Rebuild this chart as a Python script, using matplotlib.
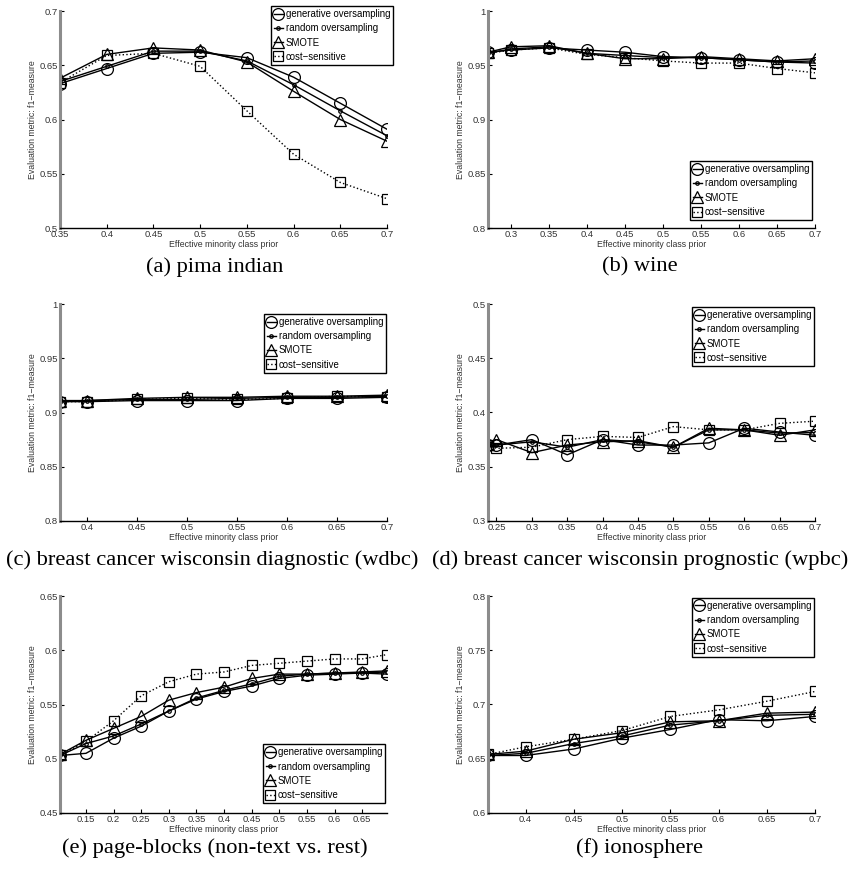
import matplotlib.pyplot as plt
from matplotlib.ticker import FuncFormatter

plt.rcParams['font.family'] = ['Liberation Sans', 'DejaVu Sans']

# Nomes dos metodos (legenda)
metodos = ["generative oversampling", "random oversampling", "SMOTE", "cost\u2212sensitive"]

# (a) pima indian
pima_x = [0.35, 0.4, 0.45, 0.5, 0.55, 0.6, 0.65, 0.7]
pima_gen = [0.633, 0.647, 0.661, 0.662, 0.657, 0.639, 0.615, 0.591]
pima_rand = [0.635, 0.649, 0.663, 0.663, 0.654, 0.632, 0.608, 0.585]
pima_smote = [0.638, 0.660, 0.666, 0.664, 0.653, 0.626, 0.600, 0.580]
pima_cost = [0.634, 0.659, 0.661, 0.649, 0.608, 0.568, 0.542, 0.527]

# (b) wine
wine_x = [0.27, 0.3, 0.35, 0.4, 0.45, 0.5, 0.55, 0.6, 0.65, 0.7]
wine_gen = [0.962, 0.964, 0.966, 0.964, 0.962, 0.958, 0.957, 0.955, 0.953, 0.952]
wine_rand = [0.961, 0.965, 0.967, 0.961, 0.959, 0.957, 0.957, 0.955, 0.953, 0.954]
wine_smote = [0.962, 0.967, 0.968, 0.961, 0.956, 0.956, 0.958, 0.956, 0.954, 0.956]
wine_cost = [0.961, 0.964, 0.966, 0.960, 0.957, 0.954, 0.952, 0.952, 0.947, 0.943]

# (c) wdbc
wdbc_x = [0.373, 0.4, 0.45, 0.5, 0.55, 0.6, 0.65, 0.7]
wdbc_gen = [0.910, 0.910, 0.911, 0.911, 0.911, 0.913, 0.913, 0.914]
wdbc_rand = [0.910, 0.911, 0.912, 0.912, 0.913, 0.914, 0.914, 0.915]
wdbc_smote = [0.911, 0.911, 0.913, 0.914, 0.914, 0.915, 0.915, 0.916]
wdbc_cost = [0.910, 0.910, 0.912, 0.913, 0.912, 0.913, 0.915, 0.914]

# (d) wpbc
wpbc_x = [0.238, 0.25, 0.3, 0.35, 0.4, 0.45, 0.5, 0.55, 0.6, 0.65, 0.7]
wpbc_gen = [0.370, 0.370, 0.375, 0.361, 0.375, 0.370, 0.370, 0.372, 0.3855, 0.382, 0.379]
wpbc_rand = [0.370, 0.370, 0.373, 0.368, 0.375, 0.373, 0.368, 0.384, 0.384, 0.381, 0.3815]
wpbc_smote = [0.371, 0.375, 0.363, 0.370, 0.373, 0.374, 0.368, 0.3855, 0.384, 0.379, 0.384]
wpbc_cost = [0.370, 0.367, 0.368, 0.375, 0.378, 0.377, 0.387, 0.384, 0.384, 0.390, 0.392]

# (e) page-blocks
page_x = [0.103, 0.15, 0.2, 0.25, 0.3, 0.35, 0.4, 0.45, 0.5, 0.55, 0.6, 0.65, 0.695]
page_gen = [0.503, 0.505, 0.519, 0.530, 0.544, 0.555, 0.562, 0.567, 0.574, 0.577, 0.578, 0.579, 0.578]
page_rand = [0.503, 0.514, 0.521, 0.532, 0.544, 0.556, 0.563, 0.569, 0.576, 0.578, 0.579, 0.579, 0.580]
page_smote = [0.504, 0.517, 0.528, 0.539, 0.554, 0.561, 0.566, 0.574, 0.578, 0.578, 0.579, 0.580, 0.581]
page_cost = [0.503, 0.516, 0.535, 0.558, 0.571, 0.578, 0.580, 0.586, 0.588, 0.590, 0.592, 0.592, 0.596]

# (f) ionosphere
iono_x = [0.361, 0.4, 0.45, 0.5, 0.55, 0.6, 0.65, 0.7]
iono_gen = [0.653, 0.653, 0.659, 0.669, 0.677, 0.686, 0.685, 0.689]
iono_rand = [0.653, 0.655, 0.664, 0.671, 0.681, 0.685, 0.690, 0.691]
iono_smote = [0.654, 0.657, 0.668, 0.674, 0.684, 0.685, 0.692, 0.693]
iono_cost = [0.654, 0.661, 0.668, 0.676, 0.689, 0.695, 0.703, 0.712]

legendas = ["(a) pima indian", "(b) wine",
            "(c) breast cancer wisconsin diagnostic (wdbc)",
            "(d) breast cancer wisconsin prognostic (wpbc)",
            "(e) page-blocks (non-text vs. rest)", "(f) ionosphere"]

fig = plt.figure(figsize=(8.53, 8.69), dpi=100)

def fmt(v, pos):
    return "%g" % round(v, 4)

def painel(ret, x, series, xlim, xticks, ylim, loc, anchor, legenda, cap_xy):
    ax = fig.add_axes(ret)
    estilos = [dict(ls='-', marker='o', ms=8.5),
               dict(ls='-', marker='.', ms=5),
               dict(ls='-', marker='^', ms=8.5),
               dict(ls=':', marker='s', ms=7)]
    for ys, nome, st in zip(series, metodos, estilos):
        ax.plot(x, ys, color='black', lw=1.0, mfc='none', mec='black', mew=0.9,
                label=nome, **st)
    ax.set_xlim(xlim)
    ax.set_ylim(ylim)
    ax.set_xticks(xticks)
    yt = [round(ylim[0] + 0.05 * i, 2) for i in range(5)]
    ax.set_yticks(yt)
    ax.xaxis.set_major_formatter(FuncFormatter(fmt))
    ax.yaxis.set_major_formatter(FuncFormatter(fmt))
    ax.spines['top'].set_visible(False)
    ax.spines['right'].set_visible(False)
    ax.spines['left'].set_color('0.55')
    ax.spines['left'].set_linewidth(2.2)
    ax.spines['bottom'].set_linewidth(1)
    ax.tick_params(direction='in', length=3, labelsize=6.8, pad=1.5, colors='black',
                   labelcolor='0.2')
    ax.set_xlabel("Effective minority class prior", fontsize=6.3, color='0.2', labelpad=1)
    ax.set_ylabel("Evaluation metric: f1\u2212measure", fontsize=6.3, color='0.2', labelpad=1.5)
    ax.legend(loc=loc, bbox_to_anchor=anchor, borderaxespad=0, fontsize=6.9,
              frameon=True, fancybox=False, framealpha=1, edgecolor='black',
              handlelength=0.9, handletextpad=0.3, borderpad=0.3, labelspacing=0.45)
    fig.text(cap_xy[0] / 853, 1 - cap_xy[1] / 869, legenda, ha='center', va='center',
             fontsize=16.2, family=['Liberation Serif', 'DejaVu Serif'])

W = 327 / 853
H = 217 / 869
xs = [0.05 * i for i in range(2, 15)]

painel([60 / 853, 1 - 228 / 869, W, H], pima_x,
       [pima_gen, pima_rand, pima_smote, pima_cost],
       (0.35, 0.7), [v for v in xs if 0.349 < v < 0.701], (0.5, 0.7),
       'upper right', (1.018, 1.023), legendas[0], (215, 267))
painel([488 / 853, 1 - 228 / 869, W, H], wine_x,
       [wine_gen, wine_rand, wine_smote, wine_cost],
       (0.27, 0.7), [v for v in xs if 0.299 < v < 0.701], (0.8, 1.0),
       'lower right', (0.991, 0.037), legendas[1], (640, 267))
painel([60 / 853, 1 - 521 / 869, W, H], wdbc_x,
       [wdbc_gen, wdbc_rand, wdbc_smote, wdbc_cost],
       (0.373, 0.7), [v for v in xs if 0.399 < v < 0.701], (0.8, 1.0),
       'upper right', (0.997, 0.954), legendas[2], (212, 560))
painel([488 / 853, 1 - 521 / 869, W, H], wpbc_x,
       [wpbc_gen, wpbc_rand, wpbc_smote, wpbc_cost],
       (0.238, 0.7), [v for v in xs if 0.249 < v < 0.701], (0.3, 0.5),
       'upper right', (0.997, 0.986), legendas[3], (640, 560))
painel([60 / 853, 1 - 813 / 869, W, H], page_x,
       [page_gen, page_rand, page_smote, page_cost],
       (0.103, 0.695), [v for v in xs if 0.149 < v < 0.651], (0.45, 0.65),
       'lower right', (0.994, 0.046), legendas[4], (215, 848))
painel([488 / 853, 1 - 813 / 869, W, H], iono_x,
       [iono_gen, iono_rand, iono_smote, iono_cost],
       (0.361, 0.7), [v for v in xs if 0.399 < v < 0.701], (0.6, 0.8),
       'upper right', (0.997, 0.991), legendas[5], (640, 848))

fig.savefig("out.png", dpi=100)
